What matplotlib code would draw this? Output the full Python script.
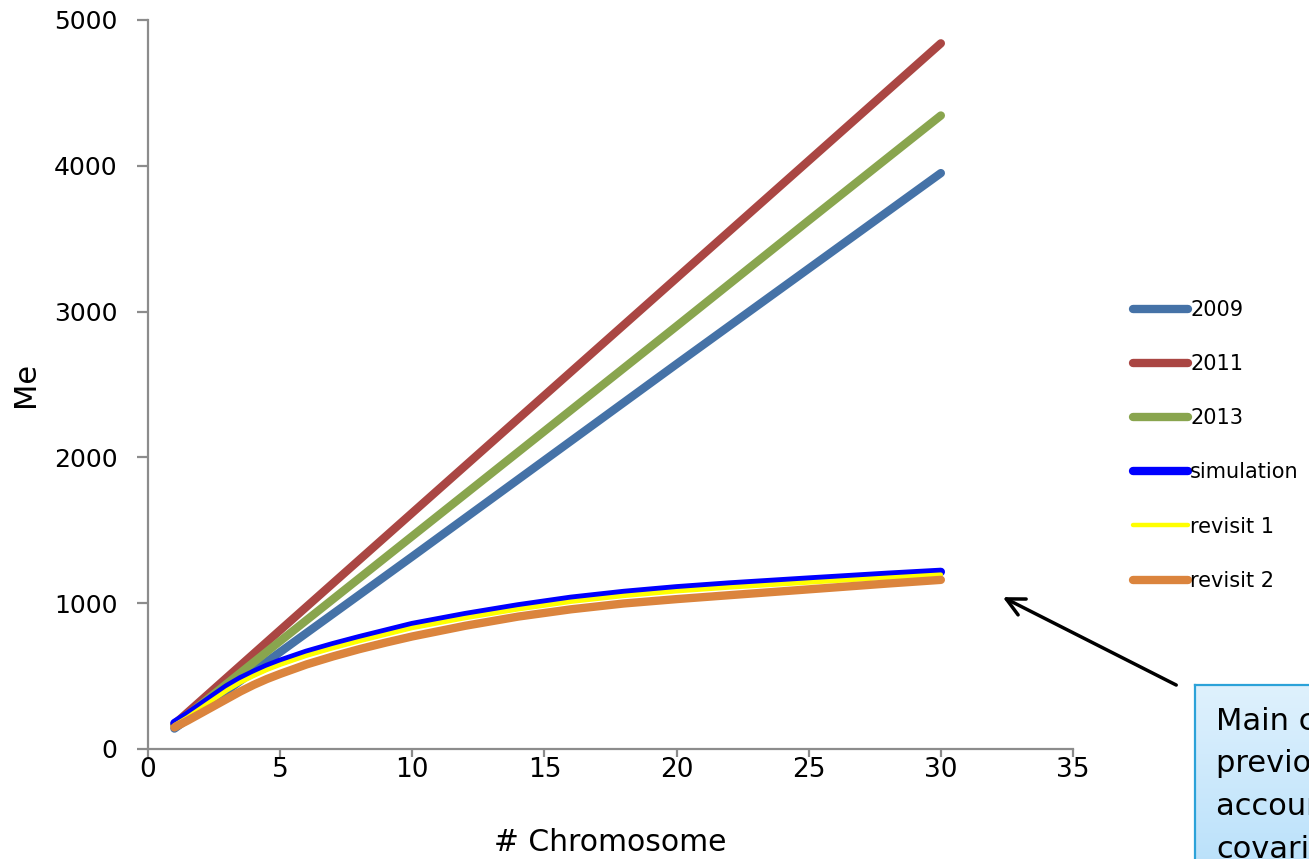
import numpy as np
import matplotlib
matplotlib.use("Agg")
import matplotlib.pyplot as plt
from matplotlib.colors import LinearSegmentedColormap

# ---- data ----
x_lin = [1, 5, 10, 15, 20, 25, 30]
me_2009 = [140, 665, 1320, 1980, 2640, 3295, 3950]
me_2011 = [170, 815, 1620, 2425, 3230, 4035, 4840]
me_2013 = [160, 740, 1460, 2180, 2900, 3625, 4345]

x_curve = [1, 1.5, 2, 2.5, 3, 3.5, 4, 4.5, 5, 6, 7, 8, 9, 10, 12, 14, 16, 18, 20, 22, 25, 28, 30]
me_sim = [178, 235, 298, 362, 425, 478, 522, 563, 598, 660, 712, 760, 805, 850, 918, 978, 1030, 1070,
          1102, 1128, 1162, 1195, 1215]
me_rev1 = [163, 218, 280, 342, 404, 457, 502, 543, 578, 640, 692, 740, 785, 830, 898, 958, 1010, 1050,
           1082, 1108, 1142, 1175, 1196]
me_rev2 = [148, 195, 245, 295, 345, 395, 440, 480, 515, 580, 635, 685, 730, 772, 845, 908, 958, 998,
           1028, 1055, 1095, 1135, 1160]

series_lin = [("2009", me_2009, "#4572A7"), ("2011", me_2011, "#AA4643"), ("2013", me_2013, "#89A54E")]
series_curve = [("simulation", me_sim, "#0000FF", 6.0), ("revisit 1", me_rev1, "#FFFF00", 3.2),
                ("revisit 2", me_rev2, "#DB843D", 6.0)]

xticks = [0, 5, 10, 15, 20, 25, 30, 35]
yticks = [0, 1000, 2000, 3000, 4000, 5000]

W, H = 1309, 859
fig = plt.figure(figsize=(W / 100, H / 100), dpi=100)
ax = fig.add_axes([148 / W, 1 - 749 / H, (1073 - 148) / W, (749 - 20) / H])

handles = []
for name, vals, col in series_lin:
    h, = ax.plot(x_lin, vals, color=col, lw=6.0, solid_capstyle="round",
                 solid_joinstyle="round", label=name)
    handles.append(h)
for name, vals, col, lw in series_curve:
    h, = ax.plot(x_curve, vals, color=col, lw=lw, solid_capstyle="round",
                 solid_joinstyle="round", label=name)
    handles.append(h)

ax.set_xlim(0, 35)
ax.set_ylim(0, 5000)
ax.set_xticks(xticks)
ax.set_yticks(yticks)
for s in ["top", "right"]:
    ax.spines[s].set_visible(False)
for s in ["left", "bottom"]:
    ax.spines[s].set_color("#8c8c8c")
    ax.spines[s].set_linewidth(1.6)
ax.tick_params(axis="y", direction="out", length=8, width=1.6, color="#8c8c8c", labelsize=18, pad=14)
ax.tick_params(axis="x", direction="out", length=5.5, width=1.6, color="#8c8c8c", labelsize=19, pad=0)
ax.set_xlabel("# Chromosome", fontsize=21.5, labelpad=33)
ax.set_ylabel("Me", fontsize=22, labelpad=10)

leg = fig.legend(handles=handles, loc="upper left", bbox_to_anchor=(1133 / W, 1 - 300 / H),
                 frameon=False, fontsize=15, handlelength=2.65, handletextpad=0.1,
                 labelspacing=1.64, borderpad=0, borderaxespad=0)

# annotation arrow
ax.annotate("", xy=(32.25, 1050), xytext=(39.0, 430), xycoords="data", textcoords="data",
            annotation_clip=False,
            arrowprops=dict(arrowstyle="->", color="black", lw=2.5, mutation_scale=32))

# annotation box with gradient
bx = fig.add_axes([1195 / W, -0.05, 0.2, (859 - 685) / H + 0.05])
grad = np.linspace(0, 1, 256).reshape(-1, 1)
cmap = LinearSegmentedColormap.from_list("g", ["#b3defa", "#dff1fd"])
bx.imshow(grad, aspect="auto", cmap=cmap, origin="lower", extent=[0, 1, 0, 1])
bx.set_xticks([])
bx.set_yticks([])
for s in bx.spines.values():
    s.set_color("#2ca2d8")
    s.set_linewidth(1.6)
bx.text(0.08, 0.90, "Main change from\nprevious models:\naccounting for\ncovariance",
        transform=bx.transAxes, fontsize=22, va="top", ha="left", linespacing=1.6)

fig.savefig("out.png", dpi=100)
